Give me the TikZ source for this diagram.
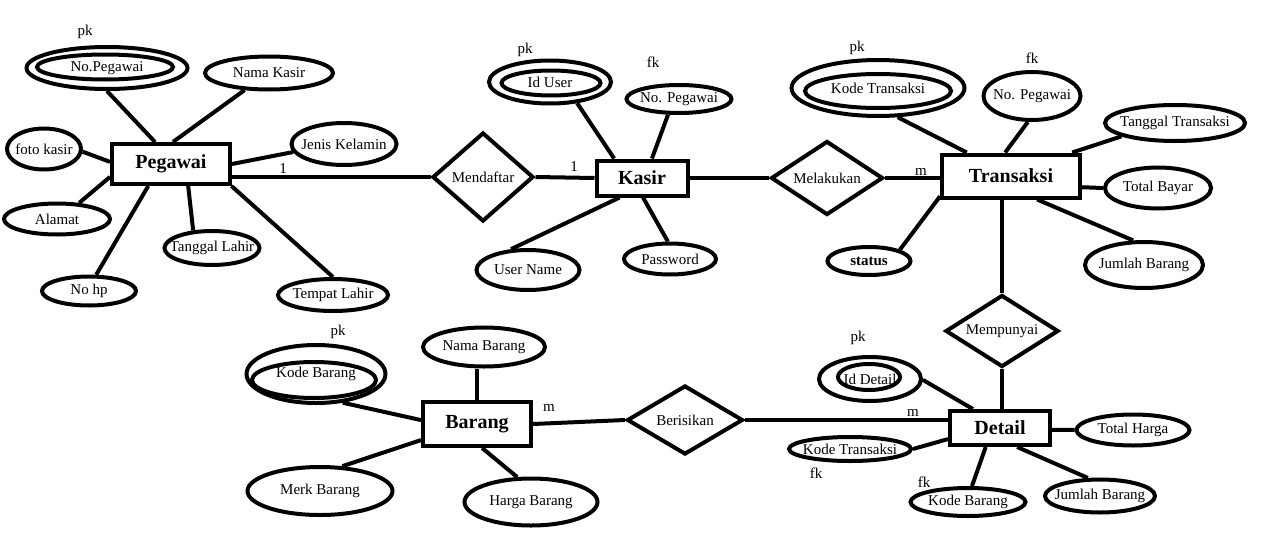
\documentclass[tikz,border=0pt]{standalone}
\usepackage{fontspec}
\setmainfont{Liberation Serif}
\usetikzlibrary{shapes.geometric}
\newcommand\zb[1]{\makebox[0pt]{#1}}
\begin{document}
\begin{tikzpicture}[x=0.75pt,y=-0.75pt,
  atr/.style 2 args={draw, ellipse, line width=3pt, inner sep=0pt,
    minimum width=#1*0.75pt, minimum height=#2*0.75pt,
    font=\fontsize{11.25}{13}\selectfont},
  ent/.style 2 args={draw, rectangle, line width=3pt, inner sep=0pt,
    minimum width=#1*0.75pt, minimum height=#2*0.75pt,
    font=\fontsize{15}{17}\selectfont\bfseries},
  rel/.style 2 args={draw, diamond, line width=3pt, inner sep=0pt,
    minimum width=#1*0.75pt, minimum height=#2*0.75pt,
    font=\fontsize{11.25}{13}\selectfont},
  cn/.style={line width=3pt},
  lbl/.style={inner sep=0pt, font=\fontsize{11.25}{13}\selectfont}]
\fill[white] (0,0) rectangle (1281,546);
\useasboundingbox (0,0) rectangle (1281,546);

% entities
\node[ent={118}{40}] (pe) at (171,164) {Pegawai};
\node[ent={91}{35}] (ks) at (642,178) {Kasir};
\node[ent={138}{43}] (tr) at (1011,176) {Transaksi};
\node[ent={100}{34}] (dt) at (1000,428) {Detail};
\node[ent={108}{44}] (bg) at (477,424) {Barang};

% relationships
\node[rel={101}{89}] (md) at (483,177) {\zb{Mendaftar}};
\node[rel={112}{74}] (ml) at (827,178) {\zb{Melakukan}};
\node[rel={113}{72}] (mp) at (1002,331) {\zb{Mempunyai}};
\node[rel={116}{69}] (br) at (685,420) {\zb{Berisikan}};

% Pegawai attributes
\node[atr={161}{42}] (np) at (107,68) {\zb{No.Pegawai}};
\node[atr={136}{25}] (npi) at (105,67) {};
\node[atr={128}{33}] (nk) at (269,73) {\zb{Nama Kasir}};
\node[atr={74}{41}] (fk) at (44,149) {\zb{foto kasir}};
\node[atr={105}{42}] (jk) at (344,144) {\zb{Jenis Kelamin}};
\node[atr={106}{31}] (al) at (57,219) {\zb{Alamat}};
\node[atr={95}{34}] (tl) at (212,248) {\zb{Tanggal Lahir}};
\node[atr={94}{29}] (hp) at (89,291) {\zb{No hp}};
\node[atr={110}{32}] (tp) at (333,295) {\zb{Tempat Lahir}};

% Kasir attributes
\node[atr={122}{43}] (iu) at (550,82) {\zb{Id User}};
\node[atr={99}{25}] (iui) at (551,83) {};
\node[atr={105}{28}] (npk) at (679,99) {\zb{No. Pegawai}};
\node[atr={103}{40}] (un) at (528,270) {\zb{User Name}};
\node[atr={92}{31}] (pw) at (670,259) {\zb{Password}};

% Transaksi attributes
\node[atr={173}{56}] (kt) at (878,88) {\zb{Kode Transaksi}};
\node[atr={146}{34}] (kti) at (878,91) {};
\node[atr={97}{48}] (npt) at (1032,96) {\zb{No. Pegawai}};
\node[atr={140}{36}] (tt) at (1175,123) {\zb{Tanggal Transaksi}};
\node[atr={106}{41}] (tb) at (1158,188) {\zb{Total Bayar}};
\node[atr={118}{46}] (jbt) at (1144,265) {\zb{Jumlah Barang}};
\node[atr={83}{28}, font=\fontsize{11.25}{13}\selectfont\bfseries] (st) at (869,261) {\zb{status}};

% Detail attributes
\node[atr={102}{44}] (idd) at (870,379) {\zb{Id Detail}};
\node[atr={62}{26}] (iddi) at (869,377) {};
\node[atr={122}{24}] (ktd) at (850,449) {\zb{Kode Transaksi}};
\node[atr={115}{28}] (kbd) at (968,502) {\zb{Kode Barang}};
\node[atr={113}{31}] (th) at (1133,430) {\zb{Total Harga}};
\node[atr={110}{33}] (jbd) at (1100,496) {\zb{Jumlah Barang}};

% Barang attributes
\node[atr={139}{58}] (kb) at (316,374) {\zb{Kode Barang}};
\node[atr={124}{36}] (kbi) at (314,380) {};
\node[atr={122}{39}] (nb) at (484,347) {\zb{Nama Barang}};
\node[atr={145}{48}] (mb) at (320,491) {\zb{Merk Barang}};
\node[atr={133}{47}] (hb) at (531,502) {\zb{Harga Barang}};

% key / cardinality labels
\node[lbl] (pk1) at (85,32) {pk};
\node[lbl] (pk2) at (525,50) {pk};
\node[lbl] (fk2) at (653,62) {fk};
\node[lbl] (pk3) at (857,48) {pk};
\node[lbl] (fk3) at (1032,58) {fk};
\node[lbl] (pk4) at (858,338) {pk};
\node[lbl] (fk4) at (816,473) {fk};
\node[lbl] (fk5) at (924,482) {fk};
\node[lbl] (pk5) at (338,332) {pk};
\node[lbl] (c1) at (283,169) {1};
\node[lbl] (c2) at (574,167) {1};
\node[lbl] (c3) at (921,172) {m};
\node[lbl] (c4) at (913,413) {m};
\node[lbl] (c5) at (549,408) {m};

% connectors: Pegawai
\draw[cn] (pe.126) -- (np.270);
\draw[cn] (pe.85) -- (nk.215);
\draw[cn] (pe.178) -- (fk.356);
\draw[cn] (pe.0) -- (jk.189);
\draw[cn] (pe.192) -- (al.36);
\draw[cn] (pe.224) -- (hp.66);
\draw[cn] (pe.308) -- (tl.137);
\draw[cn] (pe.340) -- (tp.90);
\draw[cn] (md.west) -- (md.west -| pe.east);
% Kasir
\draw[cn] (md.east) -- (ks.west);
\draw[cn] (ks.145) -- (iu.322);
\draw[cn] (ks.63) -- (npk.235);
\draw[cn] (ks.221) -- (un.129);
\draw[cn] (ks.273) -- (pw.97);
\draw[cn] (ks.east) -- (ml.west);
% Transaksi
\draw[cn] (ml.east) -- (ml.east -| tr.west);
\draw[cn] (tr.152) -- (kt.304);
\draw[cn] (tr.104) -- (npt.261);
\draw[cn] (tr.21) -- (tt.194);
\draw[cn] (tr.351) -- (tb.180);
\draw[cn] (tr.318) -- (jbt.114);
\draw[cn] (tr.196) -- (st.20);
\draw[cn] (mp.north) -- (mp.north |- tr.south);
% Detail
\draw[cn] (mp.south) -- (mp.south |- dt.north);
\draw[cn] (dt.145) -- (idd.359);
\draw[cn] (dt.192) -- (ktd.0);
\draw[cn] (dt.233) -- (kbd.76);
\draw[cn] (dt.358) -- (th.180);
\draw[cn] (dt.312) -- (jbd.124);
\draw[cn] (br.east) -- (br.east -| dt.west);
% Barang
\draw[cn] (bg.east) -- (br.west);
\draw[cn] (bg.176) -- (kb.313);
\draw[cn] (bg.north) -- (bg.north |- nb.south);
\draw[cn] (bg.196) -- (mb.48);
\draw[cn] (bg.282) -- (hb.119);
\end{tikzpicture}
\end{document}
